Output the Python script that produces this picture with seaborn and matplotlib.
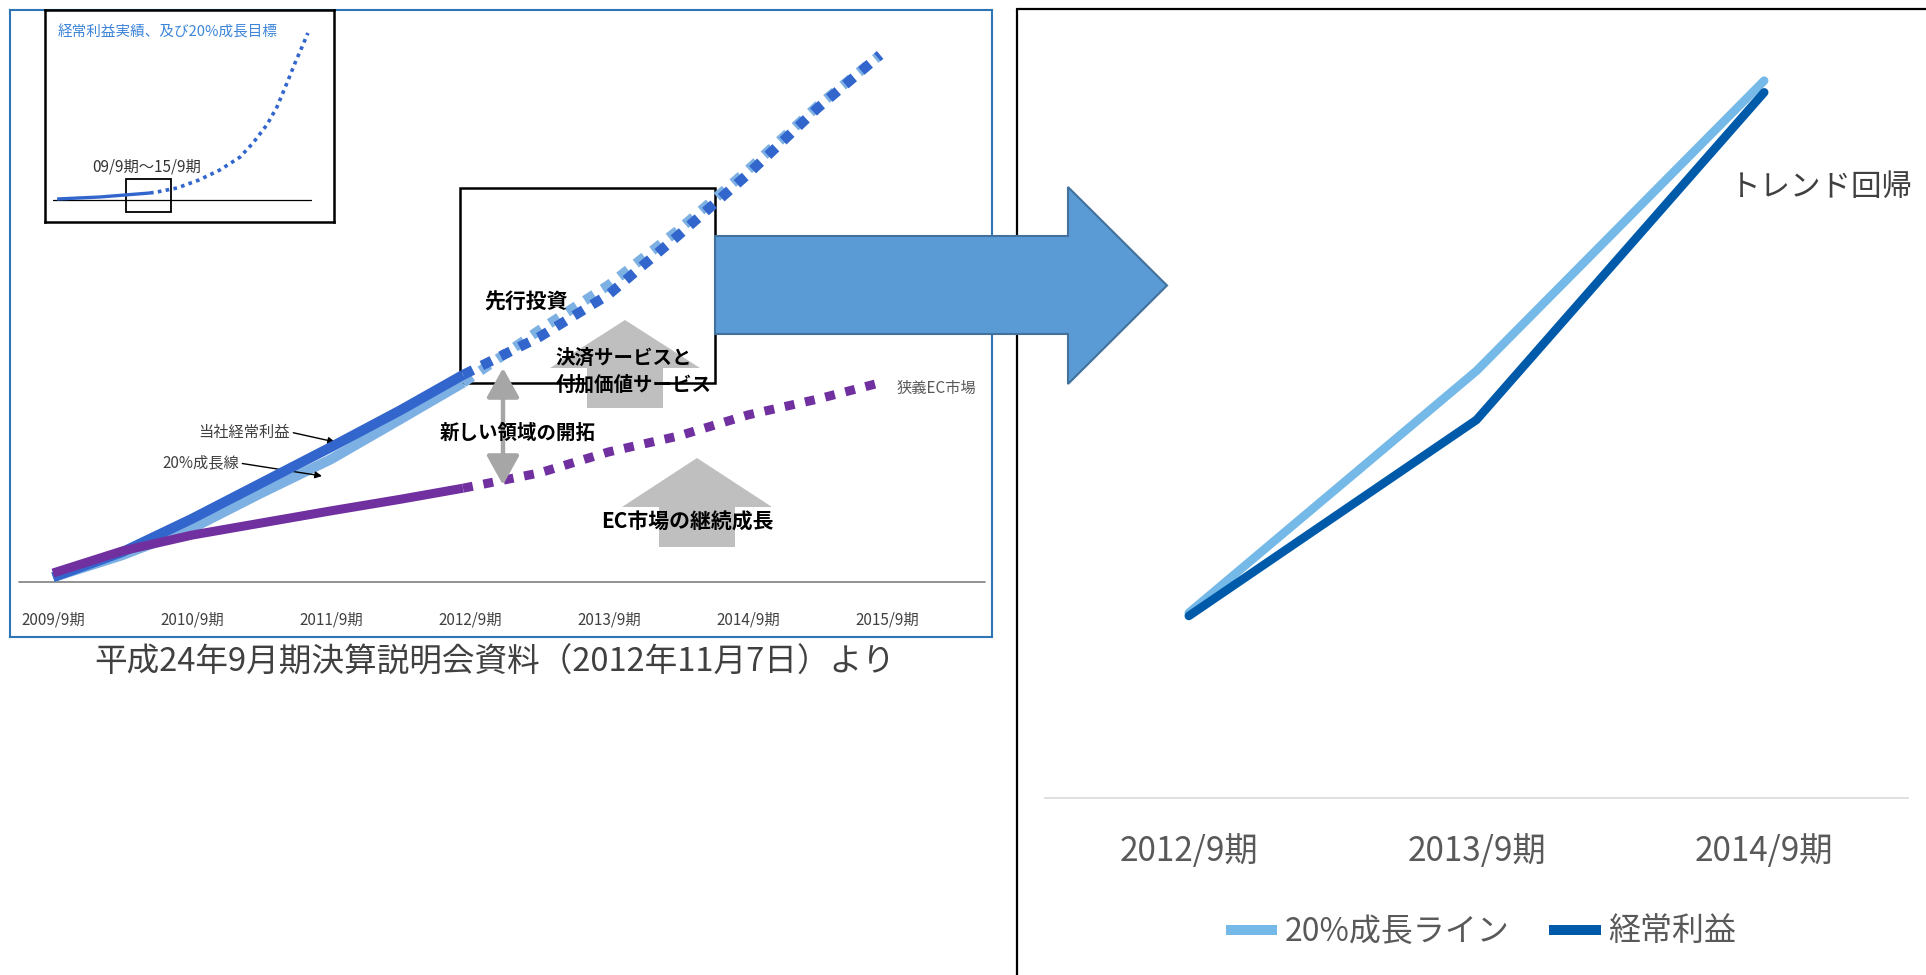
import numpy as np
import pandas as pd
import seaborn as sns
import matplotlib.pyplot as plt
import matplotlib.patches as mpatches
from matplotlib.lines import Line2D

# left picture: 説明会資料の図 (index, baseline = 0)
years_actual = [2009, 2009.5, 2010, 2010.5, 2011, 2011.5, 2011.95]
keijo_actual = [0.9, 5.7, 12.0, 18.8, 25.6, 32.6, 39.3]
growth20_actual = [0.9, 5.1, 10.2, 16.9, 23.3, 30.9, 37.8]
ec_actual = [1.7, 5.9, 8.9, 11.2, 13.5, 15.7, 17.8]
years_plan = [2011.95, 2012.5, 2013, 2013.5, 2014, 2014.5, 2014.95]
keijo_plan = [39.3, 46.5, 54.6, 65.8, 77.4, 89.9, 100.0]
growth20_plan = [37.8, 47.8, 56.4, 66.8, 78.2, 90.3, 100.0]
ec_plan = [17.8, 20.7, 24.7, 27.7, 31.7, 34.7, 37.8]
left_ticks = [2009, 2010, 2011, 2012, 2013, 2014, 2015]
left_labels = ["2009/9期", "2010/9期", "2011/9期", "2012/9期", "2013/9期", "2014/9期", "2015/9期"]

# inset (long range 20% growth)
inset_x_actual = [1.6, 18.2, 37.6]
inset_y_actual = [0.6, 1.8, 4.2]
inset_x_target = [37.6, 40.3, 48.1, 56.6, 64.7, 72.5, 77.5, 82.9, 86.8, 90.7, 93.8, 96.5, 98.8]
inset_y_target = [4.2, 4.8, 7.2, 12.0, 18.0, 25.7, 34.1, 45.0, 55.7, 70.1, 82.0, 91.6, 100.0]

# right chart
periods = ["2012/9期", "2013/9期", "2014/9期"]
growth_line = [23.8, 54.9, 92.2]
keijo = [23.4, 48.6, 90.7]
series_names = ["20%成長ライン", "経常利益"]

W, H = 1926, 975
sns.set_style("white")
plt.rcParams['font.family'] = ['Noto Sans CJK JP', 'DejaVu Sans']

fig = plt.figure(figsize=(W / 100, H / 100), dpi=100)


def px(x, y):
    return (x / W, 1 - y / H)


def yr(x):
    return 2009 + (x - 53) / 139


def val(y):
    return (582 - y) / 5.27


# ---- left panel
ax = fig.add_axes([10 / W, 1 - 637 / H, 982 / W, 627 / H])
ax.set_xlim(yr(10), yr(992))
ax.set_ylim(val(637), val(10))
for s in ax.spines.values():
    s.set_color("#2E75B6")
    s.set_linewidth(1.5)
ax.set_yticks([])
ax.set_xticks(left_ticks)
ax.set_xticklabels(left_labels, fontsize=11, color="#404040")
ax.tick_params(axis="x", length=0, pad=-18.5)
ax.axhline(0, xmin=0.009, xmax=0.993, color="#7F7F7F", lw=1.2, zorder=1)

light_c, dark_c, purple_c = "#7DB1E3", "#3366CC", "#7030A0"
ax.plot(years_actual, growth20_actual, color=light_c, lw=7.2, solid_capstyle="butt", zorder=3)
ax.plot(years_actual, keijo_actual, color=dark_c, lw=7.2, solid_capstyle="butt", zorder=4)
ax.plot(years_actual, ec_actual, color=purple_c, lw=6.5, solid_capstyle="butt", zorder=5)
ax.plot(years_plan, growth20_plan, color=light_c, lw=7.2, ls=(0, (1.1, 1.0)), zorder=3)
ax.plot(years_plan, keijo_plan, color=dark_c, lw=7.2, ls=(0, (1.1, 1.0)), zorder=4)
ax.plot(years_plan, ec_plan, color=purple_c, lw=6.5, ls=(0, (1.1, 1.2)), zorder=5)

# box and grey block arrows (figure pixel shapes)
ax.add_patch(mpatches.Rectangle(px(460, 383), 255 / W, 195 / H, fill=False, ec="black",
                                lw=1.8, transform=fig.transFigure, zorder=2))
for cx, tip, base, tail in [(625, 320, 368, 408), (697, 458, 507, 547)]:
    pts = [(cx - 38, tail), (cx - 38, base), (cx - 75, base), (cx, tip),
           (cx + 75, base), (cx + 38, base), (cx + 38, tail)]
    ax.add_patch(mpatches.Polygon([px(a, b) for a, b in pts], closed=True, fc="#BFBFBF",
                                  ec="none", transform=fig.transFigure, zorder=2))

ax.annotate("", xy=(yr(503), val(368)), xytext=(yr(503), val(485)),
            arrowprops=dict(arrowstyle="<|-|>,head_length=0.9,head_width=0.5", color="#A6A6A6",
                            lw=3.2, mutation_scale=20, shrinkA=0, shrinkB=0), zorder=6)

bold = dict(fontweight="bold", color="black", va="center", ha="left", zorder=7)
ax.text(yr(484), val(302), "先行投資", fontsize=15, **bold)
ax.text(yr(555), val(358), "決済サービスと", fontsize=14, **bold)
ax.text(yr(555), val(385), "付加価値サービス", fontsize=14, **bold)
ax.text(yr(440), val(433), "新しい領域の開拓", fontsize=14, **bold)
ax.text(yr(601), val(522), "EC市場の継続成長", fontsize=15, **bold)
ax.text(yr(897), val(388), "狭義EC市場", fontsize=11, color="#595959", va="center", ha="left")

arr = dict(arrowstyle="-|>", color="black", lw=1, mutation_scale=10, shrinkA=0, shrinkB=0,
           relpos=(1, 0.5))
ax.annotate("当社経常利益", xy=(yr(335), val(442)), xytext=(yr(290), val(432)), fontsize=11,
            color="#404040", ha="right", va="center", arrowprops=arr)
ax.annotate("20%成長線", xy=(yr(322), val(476)), xytext=(yr(239), val(463)), fontsize=11,
            color="#404040", ha="right", va="center", arrowprops=arr)

# inset
axi = fig.add_axes([45 / W, 1 - 222 / H, 289 / W, 212 / H])
axi.set_xlim((45 - 53) / 2.58, (334 - 53) / 2.58)
axi.set_ylim((200 - 222) / 1.67, (200 - 10) / 1.67)
axi.set_xticks([])
axi.set_yticks([])
for s in axi.spines.values():
    s.set_color("black")
    s.set_linewidth(1.8)
axi.plot([0, 100], [0, 0], color="black", lw=0.9)
axi.plot(inset_x_actual, inset_y_actual, color=dark_c, lw=2.4, solid_capstyle="butt")
axi.plot(inset_x_target, inset_y_target, color=dark_c, lw=2.6, ls=(0, (1, 1.2)))
axi.add_patch(mpatches.Rectangle((28.3, -7.2), 17.4, 19.8, fill=False, ec="black", lw=1.3))
axi.text(1.6, 100.6, "経常利益実績、及び20%成長目標", fontsize=10.5, color="#3D85D8",
         va="center", ha="left")
axi.text(36.4, 19.8, "09/9期〜15/9期", fontsize=11, color="#333333", va="center", ha="center")

fig.text(*px(495, 663), "平成24年9月期決算説明会資料（2012年11月7日）より", fontsize=23.5,
         color="#404040", ha="center", va="center")

# ---- right chart
df = pd.DataFrame({
    "period": periods * 2,
    "value": growth_line + keijo,
    "series": [series_names[0]] * 3 + [series_names[1]] * 3,
})
colors = ["#74B9E7", "#005AAA"]
axr = fig.add_axes([1045 / W, 1 - 798 / H, 863 / W, 778 / H])
sns.lineplot(data=df, x="period", y="value", hue="series", hue_order=series_names,
             palette=colors, lw=6.2, sort=False, legend=False, ax=axr)
axr.set_xlim(-0.5, 2.5)
axr.set_ylim(0, 100)
axr.set_xlabel("")
axr.set_ylabel("")
axr.set_yticks([])
for k in ["top", "left", "right"]:
    axr.spines[k].set_visible(False)
axr.spines["bottom"].set_color("#D9D9D9")
axr.spines["bottom"].set_linewidth(1.2)
axr.tick_params(axis="x", length=0, pad=26, labelsize=24, labelcolor="#595959")
axr.patch.set_alpha(0)
axr.text(1.881, 78.5, "トレンド回帰", fontsize=22, color="#404040", ha="left", va="center")

handles = [Line2D([], [], color=c, lw=7.2, solid_capstyle="butt") for c in colors]
fig.legend(handles, series_names, loc="center", bbox_to_anchor=px(1481, 932), ncol=2,
           frameon=False, fontsize=23, labelcolor="#595959", handlelength=1.6,
           handletextpad=0.25, columnspacing=1.25)

# frame lines of right panel
fig.add_artist(Line2D([1017 / W, 1017 / W], [1 - 9 / H, 0], color="black", lw=1.6))
fig.add_artist(Line2D([1017 / W, 1], [1 - 9 / H, 1 - 9 / H], color="black", lw=1.6))

# big blue arrow
big = [(715, 236), (1068, 236), (1068, 187), (1167, 285.5), (1068, 384), (1068, 334), (715, 334)]
fig.add_artist(mpatches.Polygon([px(a, b) for a, b in big], closed=True, fc="#5B9BD5",
                                ec="#41719C", lw=1.5, transform=fig.transFigure, zorder=10))

fig.savefig("out.png", dpi=100)
